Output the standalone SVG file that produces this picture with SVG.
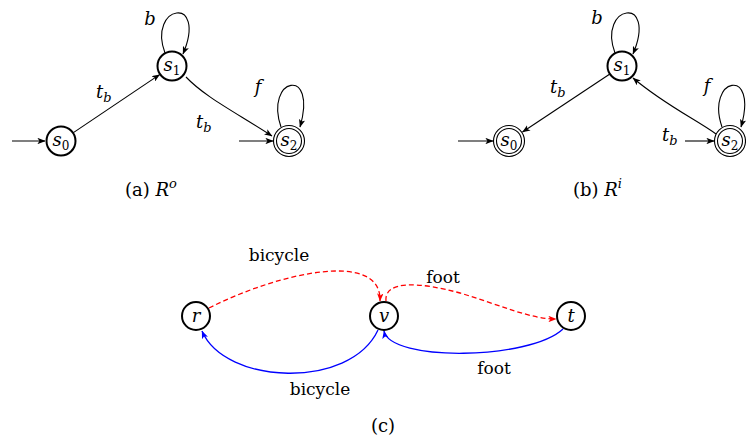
<svg xmlns="http://www.w3.org/2000/svg" width="746" height="443" viewBox="0 0 746 443">
<style>
.st{fill:#fff;stroke:#000;stroke-width:2}
.dbl{fill:none;stroke:#000;stroke-width:1.1}
.e{fill:none;stroke:#000;stroke-width:1.1}
.red{fill:none;stroke:#f00;stroke-width:1.3;stroke-dasharray:5,3}
.blue{fill:none;stroke:#00f;stroke-width:1.3}
.m{font-family:"DejaVu Serif",serif;font-style:italic;font-size:18px;fill:#000}
.sub{font-style:normal;font-size:12px}
.bsub{font-size:13px}
.rm{font-family:"DejaVu Serif",serif;font-size:17px;fill:#000}
.cap{font-family:"DejaVu Serif",serif;font-size:18px;fill:#000}
</style>
<defs>
<marker id="ak" viewBox="0 0 10 8" refX="9.5" refY="4" markerWidth="8" markerHeight="6.4" orient="auto" markerUnits="userSpaceOnUse"><path d="M0,0 L10,4 L0,8 L2.5,4 z" fill="#000"/></marker>
<marker id="ar" viewBox="0 0 10 8" refX="9.5" refY="4" markerWidth="8" markerHeight="6.4" orient="auto" markerUnits="userSpaceOnUse"><path d="M0,0 L10,4 L0,8 L2.5,4 z" fill="#f00"/></marker>
<marker id="ab" viewBox="0 0 10 8" refX="9.5" refY="4" markerWidth="8" markerHeight="6.4" orient="auto" markerUnits="userSpaceOnUse"><path d="M0,0 L10,4 L0,8 L2.5,4 z" fill="#00f"/></marker>
</defs>

<g id="connectors">
<path class="e" d="M12,141 L45,141" marker-end="url(#ak)"/>
<path class="e" d="M239,141 L273,141" marker-end="url(#ak)"/>
<path class="e" d="M73.4,132.6 L159.6,74.6" marker-end="url(#ak)"/>
<path class="e" d="M186,77 C205,97 235,112 272,136" marker-end="url(#ak)"/>
<path class="e" d="M165,53 C147,5 208,-6 183,54" marker-end="url(#ak)"/>
<path class="e" d="M281,127 C264,78 318,65 300,127" marker-end="url(#ak)"/>
<path class="e" d="M458,141 L493,141" marker-end="url(#ak)"/>
<path class="e" d="M685,141 L714,141" marker-end="url(#ak)"/>
<path class="e" d="M609.5,74.3 L522.5,132" marker-end="url(#ak)"/>
<path class="e" d="M716,134 C697,120 665,105 633,78" marker-end="url(#ak)"/>
<path class="e" d="M615,53 C597,5 658,-6 633,54" marker-end="url(#ak)"/>
<path class="e" d="M722,127 C705,78 759,65 741,127" marker-end="url(#ak)"/>
<path class="red" d="M209,308 C280,272 382,250 380,301" marker-end="url(#ar)"/>
<path class="red" d="M386,301 C384,280 420,282 460,293 C500,305 530,319 556,319" marker-end="url(#ar)"/>
<path class="blue" d="M378,330 C350,390 225,385 202,331" marker-end="url(#ab)"/>
<path class="blue" d="M563,329 C530,360 390,362 384,331" marker-end="url(#ab)"/>
</g>

<g id="a-s0"><circle class="st" cx="61" cy="141" r="14.5"/><text class="m" x="61" y="146" text-anchor="middle">s<tspan class="sub" dy="4">0</tspan></text></g>
<g id="a-s1"><circle class="st" cx="172" cy="66" r="14.5"/><text class="m" x="172" y="71" text-anchor="middle">s<tspan class="sub" dy="4">1</tspan></text></g>
<g id="a-s2"><circle class="dbl" cx="289" cy="141" r="15.5"/><circle class="dbl" cx="289" cy="141" r="12.5"/><text class="m" x="289" y="146" text-anchor="middle">s<tspan class="sub" dy="4">2</tspan></text></g>
<g id="b-s0"><circle class="dbl" cx="509" cy="141" r="15.5"/><circle class="dbl" cx="509" cy="141" r="12.5"/><text class="m" x="509" y="146" text-anchor="middle">s<tspan class="sub" dy="4">0</tspan></text></g>
<g id="b-s1"><circle class="st" cx="622" cy="66" r="14.5"/><text class="m" x="622" y="71" text-anchor="middle">s<tspan class="sub" dy="4">1</tspan></text></g>
<g id="b-s2"><circle class="dbl" cx="730" cy="141" r="15.5"/><circle class="dbl" cx="730" cy="141" r="12.5"/><text class="m" x="730" y="146" text-anchor="middle">s<tspan class="sub" dy="4">2</tspan></text></g>
<g id="c-r"><circle class="st" cx="196" cy="316" r="14"/><text class="m" x="196" y="322" text-anchor="middle">r</text></g>
<g id="c-v"><circle class="st" cx="384" cy="316" r="14"/><text class="m" x="384" y="322" text-anchor="middle">v</text></g>
<g id="c-t"><circle class="st" cx="571" cy="316" r="14"/><text class="m" x="571" y="322" text-anchor="middle">t</text></g>
<g id="labels">
<text class="m" x="150" y="25" text-anchor="middle">b</text>
<text class="m" x="96" y="98">t<tspan class="bsub" dy="4">b</tspan></text>
<text class="m" x="196" y="128">t<tspan class="bsub" dy="4">b</tspan></text>
<text class="m" x="258" y="93" text-anchor="middle">f</text>
<text class="m" x="597" y="24" text-anchor="middle">b</text>
<text class="m" x="550" y="93">t<tspan class="bsub" dy="4">b</tspan></text>
<text class="m" x="662" y="141">t<tspan class="bsub" dy="4">b</tspan></text>
<text class="m" x="707" y="92" text-anchor="middle">f</text>
<text class="rm" x="279" y="261" text-anchor="middle">bicycle</text>
<text class="rm" x="443" y="283" text-anchor="middle">foot</text>
<text class="rm" x="320" y="395" text-anchor="middle">bicycle</text>
<text class="rm" x="494" y="374" text-anchor="middle">foot</text>
<text class="cap" x="125" y="196">(a) <tspan font-style="italic">R</tspan><tspan font-style="italic" font-size="13" dy="-8">o</tspan></text>
<text class="cap" x="573" y="196">(b) <tspan font-style="italic">R</tspan><tspan font-style="italic" font-size="13" dy="-8">i</tspan></text>
<text class="cap" x="383" y="432" text-anchor="middle">(c)</text>
</g>
</svg>
